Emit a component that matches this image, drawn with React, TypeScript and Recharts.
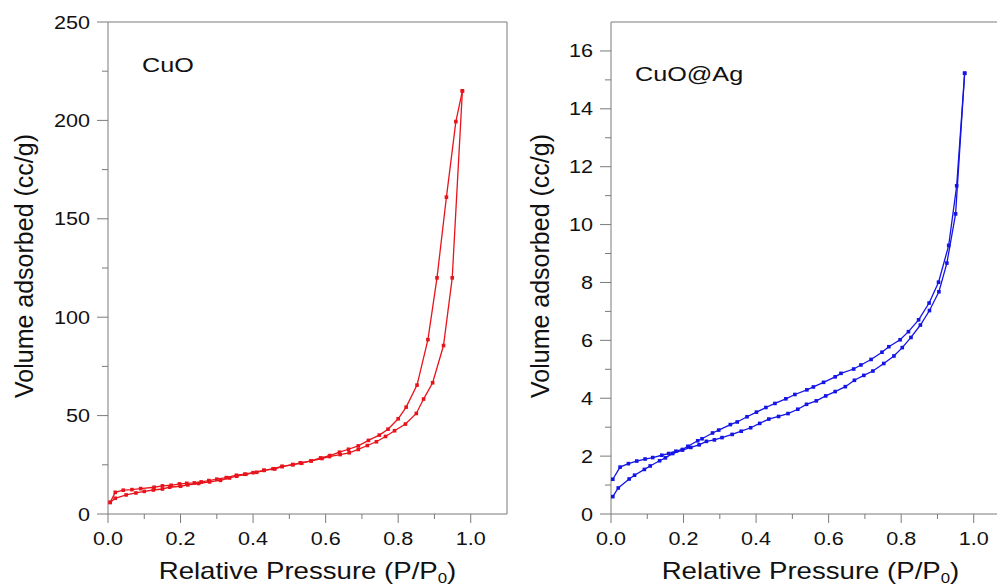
import React from 'react';
import { LineChart, Line, XAxis, YAxis, ReferenceLine, Label } from 'recharts';

// --- Data ---

// CuO, adsorption branch (P/P0, cc/g)
const cuoAdsorption: [number, number][] = [
    [0.006, 5.9], [0.02, 8.0], [0.05, 9.7], [0.077, 10.7], [0.1, 11.5], [0.125, 12.2], [0.15, 12.7],
    [0.17, 13.6], [0.2, 14.1], [0.22, 14.8], [0.25, 15.5], [0.28, 16.3], [0.31, 17.1], [0.335, 18.3],
    [0.355, 19.2], [0.38, 20.2], [0.41, 21.2], [0.43, 22.2], [0.46, 22.9], [0.48, 24.1], [0.51, 25.1],
    [0.53, 26.0], [0.56, 27.0], [0.59, 28.2], [0.61, 29.2], [0.64, 30.2], [0.665, 31.1], [0.69, 32.8],
    [0.715, 34.8], [0.74, 36.7], [0.765, 39.4], [0.79, 42.3], [0.82, 45.7], [0.85, 51.1], [0.87, 58.4],
    [0.895, 66.7], [0.925, 85.6], [0.949, 120], [0.977, 215],
];

// CuO, desorption branch
const cuoDesorption: [number, number][] = [
    [0.977, 215], [0.959, 199.4], [0.933, 161], [0.907, 120], [0.882, 88.6], [0.852, 65.5], [0.822, 54.3],
    [0.8, 48.4], [0.772, 43.1], [0.748, 40.1], [0.718, 37.4], [0.69, 34.6], [0.663, 32.9], [0.638, 31.4],
    [0.612, 29.7], [0.586, 28.5], [0.56, 27.0], [0.534, 25.8], [0.509, 25.1], [0.48, 24.2], [0.455, 23.0],
    [0.43, 22.2], [0.4, 21.0], [0.377, 20.2], [0.354, 19.7], [0.326, 18.5], [0.3, 17.7], [0.278, 17.0],
    [0.257, 16.3], [0.238, 15.8], [0.217, 15.6], [0.197, 15.3], [0.174, 14.6], [0.15, 14.3], [0.127, 13.6],
    [0.09, 12.9], [0.066, 12.4], [0.042, 12.1], [0.02, 11.0], [0.006, 5.9],
];

// CuO@Ag, adsorption branch
const agAdsorption: [number, number][] = [
    [0.005, 0.6], [0.02, 0.9], [0.05, 1.21], [0.065, 1.34], [0.092, 1.54], [0.108, 1.66], [0.134, 1.84],
    [0.15, 1.94], [0.17, 2.09], [0.197, 2.21], [0.22, 2.3], [0.243, 2.39], [0.263, 2.51], [0.285, 2.56],
    [0.306, 2.64], [0.334, 2.75], [0.359, 2.86], [0.385, 2.98], [0.41, 3.13], [0.435, 3.28], [0.462, 3.37],
    [0.488, 3.47], [0.515, 3.62], [0.539, 3.79], [0.566, 3.91], [0.592, 4.08], [0.618, 4.23], [0.646, 4.4],
    [0.671, 4.62], [0.697, 4.79], [0.722, 4.94], [0.752, 5.2], [0.78, 5.46], [0.803, 5.75], [0.827, 6.1],
    [0.853, 6.53], [0.878, 7.03], [0.904, 7.68], [0.926, 8.67], [0.95, 10.37], [0.975, 15.23],
];

// CuO@Ag, desorption branch
const agDesorption: [number, number][] = [
    [0.975, 15.23], [0.953, 11.34], [0.931, 9.28], [0.903, 8.01], [0.877, 7.29], [0.848, 6.71], [0.82, 6.3],
    [0.797, 6.02], [0.766, 5.78], [0.747, 5.59], [0.717, 5.34], [0.689, 5.15], [0.669, 5.01], [0.634, 4.86],
    [0.618, 4.74], [0.586, 4.55], [0.558, 4.39], [0.54, 4.29], [0.507, 4.13], [0.482, 3.98], [0.452, 3.82],
    [0.427, 3.68], [0.401, 3.52], [0.375, 3.36], [0.348, 3.18], [0.329, 3.09], [0.297, 2.9], [0.28, 2.8],
    [0.251, 2.6], [0.239, 2.53], [0.212, 2.34], [0.197, 2.23], [0.179, 2.17], [0.159, 2.09], [0.14, 2.03],
    [0.115, 1.95], [0.094, 1.9], [0.071, 1.83], [0.048, 1.74], [0.025, 1.62], [0.005, 1.2],
];

const pressureTicks = [0, 0.1, 0.2, 0.3, 0.4, 0.5, 0.6, 0.7, 0.8, 0.9, 1.0];
const cuoTicks = [0, 25, 50, 75, 100, 125, 150, 175, 200, 225, 250];
const agTicks = [0, 1, 2, 3, 4, 5, 6, 7, 8, 9, 10, 11, 12, 13, 14, 15, 16];

const AXIS = '#7a7a7a';
const INK = '#111';
const FONT = '"Liberation Sans", Arial, sans-serif';
const RED = '#e8141c';
const BLUE = '#1414e6';

const toRows = (pts: [number, number][]) => pts.map(([p, v]) => ({ p, v }));

// --- Helpers ---

const Stretch = ({ x, y, anchor, size, children }: any) => (
    <text
        transform={`translate(${x},${y}) scale(1.2,1)`}
        x={0}
        y={0}
        textAnchor={anchor}
        fontSize={size}
        fontFamily={FONT}
        fill={INK}
    >
        {children}
    </text>
);

const XTick = ({ x, y, payload }: any) => {
    const v = payload.value;
    const major = Math.round(v * 10) % 2 === 0;
    return (
        <g>
            <line x1={x} y1={y} x2={x} y2={y + (major ? 9 : 5)} stroke={AXIS} />
            {major && <Stretch x={x} y={y + 31} anchor="middle" size={18}>{v.toFixed(1)}</Stretch>}
        </g>
    );
};

const makeYTick = (step: number) => ({ x, y, payload }: any) => {
    const v = payload.value;
    const major = Math.round(v / step) % 2 === 0;
    return (
        <g>
            <line x1={x} y1={y} x2={x - (major ? 11 : 6)} y2={y} stroke={AXIS} />
            {major && <Stretch x={x - 18} y={y + 6.5} anchor="end" size={18}>{v}</Stretch>}
        </g>
    );
};

const squareDot = (color: string) => (props: any) => (
    <rect key={`d-${props.index}`} x={props.cx - 1.8} y={props.cy - 1.8} width={3.6} height={3.6} fill={color} />
);

const xTitle = (cx: number) => () => (
    <text x={cx} y={579} textAnchor="middle" fontSize={23} fontFamily={FONT} fill={INK}
        transform={`translate(${cx},0) scale(1.2,1) translate(${-cx},0)`}>
        <tspan>Relative Pressure (P/P</tspan>
        <tspan dy={4} fontSize={14}>0</tspan>
        <tspan dy={-4}>)</tspan>
    </text>
);

const yTitle = (cx: number, name: string, nx: number, ny: number) => () => (
    <g>
        <text x={cx} y={266} textAnchor="middle" dominantBaseline="central" fontSize={25}
            fontFamily={FONT} fill={INK} transform={`rotate(-90, ${cx}, 266)`}>
            Volume adsorbed (cc/g)
        </text>
        <Stretch x={nx} y={ny} anchor="start" size={21}>{name}</Stretch>
    </g>
);

// --- Panels ---

const Panel = ({ ads, des, color, yMax, yTicks, yStep, margin, name, nameX, nameY, yTitleX }: any) => {
    const plotLeft = margin.left + 60;
    const plotRight = 520 - margin.right;
    return (
        <LineChart width={520} height={588} margin={margin}>
            <XAxis
                dataKey="p"
                type="number"
                domain={[0, 1.1]}
                ticks={pressureTicks}
                interval={0}
                height={50}
                stroke={AXIS}
                tickSize={0}
                tickMargin={0}
                tickLine={false}
                tick={<XTick />}
            >
                <Label content={xTitle((plotLeft + plotRight) / 2)} />
            </XAxis>
            <YAxis
                dataKey="v"
                type="number"
                domain={[0, yMax]}
                ticks={yTicks}
                interval={0}
                width={60}
                stroke={AXIS}
                tickSize={0}
                tickMargin={0}
                tickLine={false}
                tick={makeYTick(yStep)}
            >
                <Label content={yTitle(yTitleX, name, nameX, nameY)} />
            </YAxis>
            <ReferenceLine y={yMax} stroke={AXIS} />
            <ReferenceLine x={1.1} stroke={AXIS} />
            <Line data={toRows(ads)} dataKey="v" stroke={color} strokeWidth={1.3} dot={squareDot(color)}
                activeDot={false} isAnimationActive={false} />
            <Line data={toRows(des)} dataKey="v" stroke={color} strokeWidth={1.3} dot={squareDot(color)}
                activeDot={false} isAnimationActive={false} />
        </LineChart>
    );
};

export default function App() {
    return (
        <div style={{ position: 'absolute', left: 0, top: 0, width: 997, height: 588, overflow: 'hidden', background: '#fff' }}>
            <div style={{ position: 'absolute', left: 0, top: 0 }}>
                <Panel
                    ads={cuoAdsorption}
                    des={cuoDesorption}
                    color={RED}
                    yMax={250}
                    yTicks={cuoTicks}
                    yStep={25}
                    margin={{ top: 22, right: 13, bottom: 24, left: 48 }}
                    name="CuO"
                    nameX={142}
                    nameY={72}
                    yTitleX={24}
                />
            </div>
            <div style={{ position: 'absolute', left: 520, top: 0 }}>
                <Panel
                    ads={agAdsorption}
                    des={agDesorption}
                    color={BLUE}
                    yMax={17}
                    yTicks={agTicks}
                    yStep={1}
                    margin={{ top: 22, right: 30, bottom: 24, left: 31 }}
                    name="CuO@Ag"
                    nameX={115}
                    nameY={81}
                    yTitleX={20}
                />
            </div>
        </div>
    );
}
